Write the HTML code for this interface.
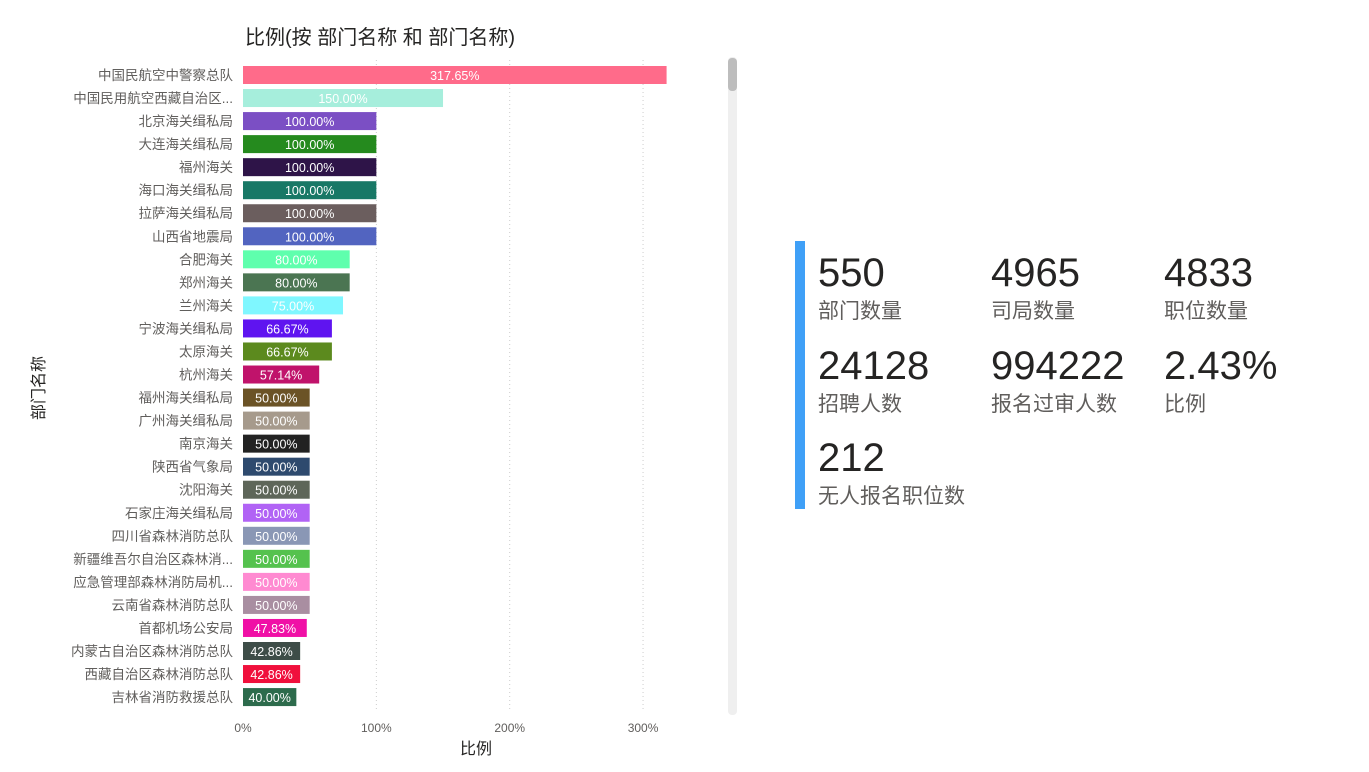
<!DOCTYPE html>
<html><head><meta charset="utf-8">
<style>
body{margin:0;width:1369px;height:772px;background:#fff;font-family:"Liberation Sans","Noto Sans CJK SC",sans-serif;overflow:hidden;position:relative}
.kn{position:absolute;font-size:40px;color:#252423;line-height:1}
.kl{position:absolute;font-size:21px;color:#605e5c;line-height:1}
</style></head><body>
<svg id="chart" width="760" height="772" style="position:absolute;left:0;top:0">
<text x="245" y="44" font-size="20" fill="#252423">比例(按 部门名称 和 部门名称)</text>
<text transform="translate(44,388) rotate(-90)" text-anchor="middle" font-size="16" fill="#252423">部门名称</text>
<text x="476" y="754" text-anchor="middle" font-size="16" fill="#252423">比例</text>
<rect x="728" y="57" width="9" height="658" rx="4" fill="#efefef"/>
<rect x="728" y="58" width="9" height="33" rx="4" fill="#bdbdbd"/>
<g id="grid"></g><g id="bars"></g>
</svg>
<div style="position:absolute;left:795px;top:241px;width:10px;height:268px;background:#3fa0f7"></div>
<div class="kn" style="left:818px;top:253px">550</div>
<div class="kl" style="left:818px;top:301px">部门数量</div>
<div class="kn" style="left:991px;top:253px">4965</div>
<div class="kl" style="left:991px;top:301px">司局数量</div>
<div class="kn" style="left:1164px;top:253px">4833</div>
<div class="kl" style="left:1164px;top:301px">职位数量</div>
<div class="kn" style="left:818px;top:346px">24128</div>
<div class="kl" style="left:818px;top:394px">招聘人数</div>
<div class="kn" style="left:991px;top:346px">994222</div>
<div class="kl" style="left:991px;top:394px">报名过审人数</div>
<div class="kn" style="left:1164px;top:346px">2.43%</div>
<div class="kl" style="left:1164px;top:394px">比例</div>
<div class="kn" style="left:818px;top:438px">212</div>
<div class="kl" style="left:818px;top:486px">无人报名职位数</div>
<script>
const categories=["中国民航空中警察总队","中国民用航空西藏自治区...","北京海关缉私局","大连海关缉私局","福州海关","海口海关缉私局","拉萨海关缉私局","山西省地震局","合肥海关","郑州海关","兰州海关","宁波海关缉私局","太原海关","杭州海关","福州海关缉私局","广州海关缉私局","南京海关","陕西省气象局","沈阳海关","石家庄海关缉私局","四川省森林消防总队","新疆维吾尔自治区森林消...","应急管理部森林消防局机...","云南省森林消防总队","首都机场公安局","内蒙古自治区森林消防总队","西藏自治区森林消防总队","吉林省消防救援总队"];
const values=[317.65,150,100,100,100,100,100,100,80,80,75,66.67,66.67,57.14,50,50,50,50,50,50,50,50,50,50,47.83,42.86,42.86,40];
const colors=["#ff6b8a","#a6eedc","#7b4fc4","#258a1e","#2e1448","#187866","#6b5e5e","#5264c0","#5fffad","#4b7552","#7ff7ff","#5f14f0","#5c8a1e","#c0136b","#6b5326","#a69a8c","#222222","#2e4a6e","#5e6659","#b163f5","#8a97b5","#55c24e","#ff8ad1","#a98ea1","#f010a6","#3e4d48","#f0103c","#2d6b4c"];
const ticks=[0,100,200,300];
const NS="http://www.w3.org/2000/svg";
const x=v=>243+v*1.3335;
const y=i=>66+i*23.04;
const grid=document.getElementById('grid'),bars=document.getElementById('bars');
ticks.forEach(t=>{
 if(t>0){const l=document.createElementNS(NS,'line');
 
 
 l.setAttribute('x1',x(t));l.setAttribute('x2',x(t));l.setAttribute('y1',60);l.setAttribute('y2',710);
 l.setAttribute('stroke','#ccc');l.setAttribute('stroke-dasharray','1,3');grid.appendChild(l);}
 const tx=document.createElementNS(NS,'text');
 
 
 tx.setAttribute('x',x(t));tx.setAttribute('y',732);tx.setAttribute('text-anchor','middle');
 tx.setAttribute('font-size','12');tx.setAttribute('fill','#605e5c');tx.textContent=t+'%';grid.appendChild(tx);
});
categories.forEach((c,i)=>{
 const lb=document.createElementNS(NS,'text');
 
 
 lb.setAttribute('x',233);lb.setAttribute('y',y(i)+14);lb.setAttribute('text-anchor','end');
 lb.setAttribute('font-size','13.5');lb.setAttribute('fill','#605e5c');lb.textContent=c;bars.appendChild(lb);
 const r=document.createElementNS(NS,'rect');
 
 
 r.setAttribute('x',x(0));r.setAttribute('y',y(i));r.setAttribute('width',x(values[i])-x(0));r.setAttribute('height',18);
 r.setAttribute('fill',colors[i]);bars.appendChild(r);
 const v=document.createElementNS(NS,'text');
 
 
 v.setAttribute('x',(x(0)+x(values[i]))/2);v.setAttribute('y',y(i)+14);v.setAttribute('text-anchor','middle');
 v.setAttribute('font-size','12.5');v.setAttribute('fill','#fff');v.textContent=values[i].toFixed(2)+'%';bars.appendChild(v);
});
</script>
</body></html>
